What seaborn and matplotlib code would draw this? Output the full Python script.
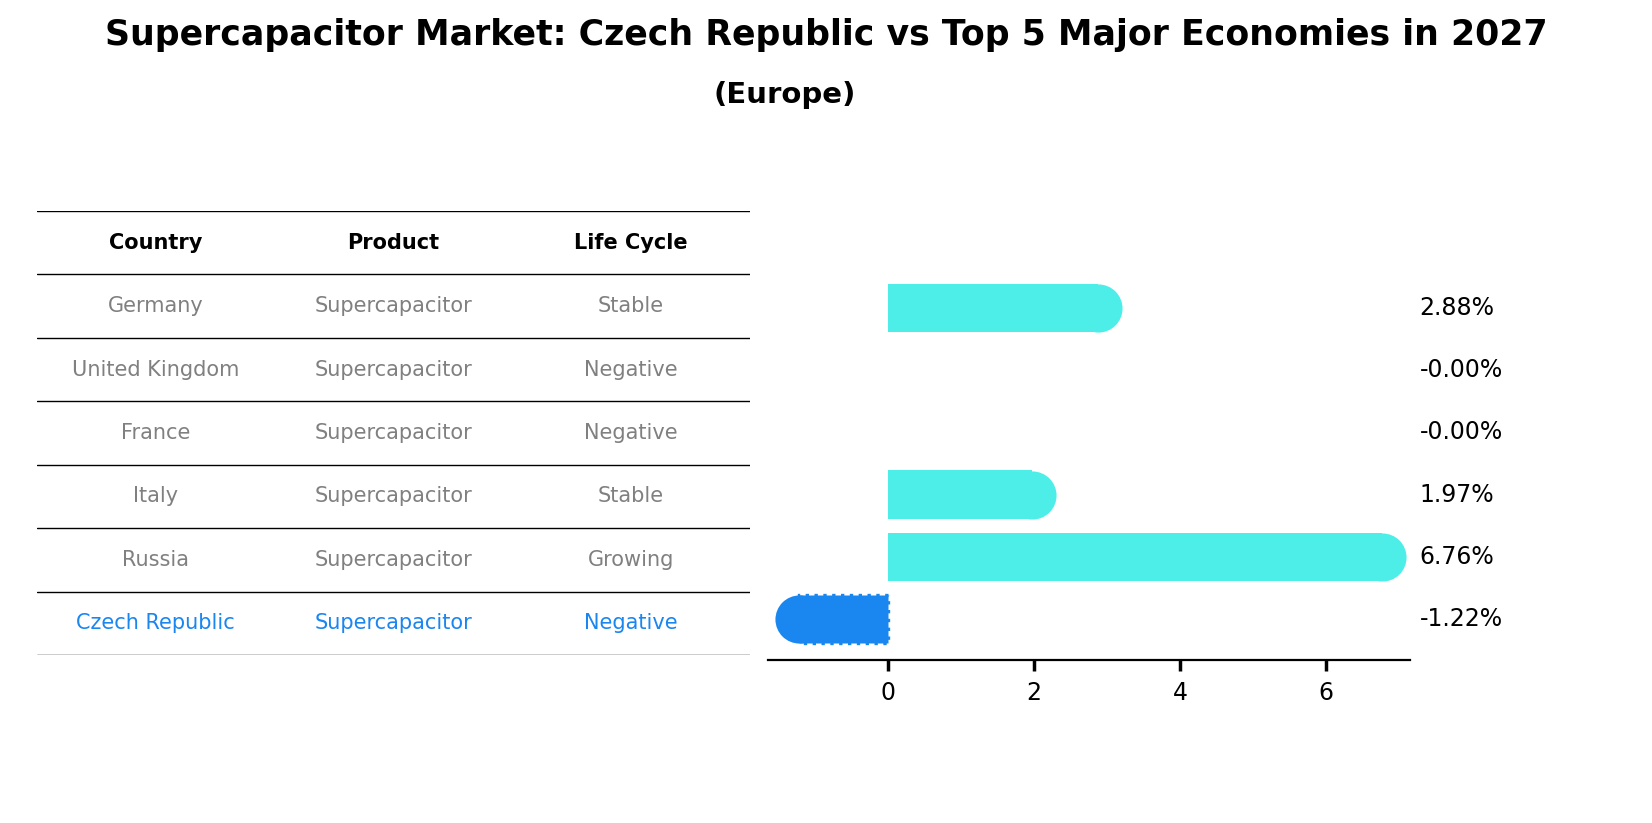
import matplotlib
matplotlib.use("Agg")
import matplotlib.pyplot as plt
import seaborn as sns
import pandas as pd

countries = ["Germany", "United Kingdom", "France", "Italy", "Russia", "Czech Republic"]
products = ["Supercapacitor"] * 6
life_cycle = ["Stable", "Negative", "Negative", "Stable", "Growing", "Negative"]
growth = [2.88, -0.00, -0.00, 1.97, 6.76, -1.22]
labels = ["2.88%", "-0.00%", "-0.00%", "1.97%", "6.76%", "-1.22%"]

CYAN = "#4deee8"
BLUE = "#1a86f0"
GREY = "#808080"

df = pd.DataFrame({"Country": countries, "Growth": growth})
colors = [BLUE if c == "Czech Republic" else CYAN for c in countries]

sns.set_theme(style="white", rc={"text.color": "black", "xtick.color": "black",
                                 "axes.labelcolor": "black"})
fig = plt.figure(figsize=(8.26, 4.115), dpi=200)

fig.text(0.5, 0.957, "Supercapacitor Market: Czech Republic vs Top 5 Major Economies in 2027",
         ha="center", va="center", fontsize=12.5, fontweight="bold")
fig.text(0.475, 0.885, "(Europe)", ha="center", va="center", fontsize=10.5, fontweight="bold")

# table
tax = fig.add_axes([37 / 1652, 1 - 655 / 823, 713 / 1652, 444 / 823])
tax.set_xlim(0, 3)
tax.set_ylim(7, 0)
tax.axis("off")
for i in range(8):
    tax.axhline(i, color="black", lw=0.5)
for j, h in enumerate(["Country", "Product", "Life Cycle"]):
    tax.text(j + 0.5, 0.5, h, ha="center", va="center", fontsize=7.5, fontweight="bold")
for i, (c, p, l) in enumerate(zip(countries, products, life_cycle)):
    col = BLUE if c == "Czech Republic" else GREY
    for j, v in enumerate([c, p, l]):
        tax.text(j + 0.5, i + 1.5, v, ha="center", va="center", fontsize=7.5, color=col)

# bars
ax = fig.add_axes([768 / 1652, 0.198, 642 / 1652, 0.4775])
sns.barplot(data=df, x="Growth", y="Country", hue="Country", palette=colors,
            legend=False, ax=ax, width=0.78, orient="h", saturation=1)
for bar, c in zip(ax.patches, countries):
    bar.set_edgecolor("none")
    if c == "Czech Republic":
        bar.set_edgecolor(BLUE)
        bar.set_linestyle(":")
        bar.set_linewidth(1.2)
for i, v in enumerate(growth):
    if v != 0:
        ax.scatter(v, i, s=300, color=colors[i], zorder=3, linewidths=0)
    ax.text(1.015, i, labels[i], transform=ax.get_yaxis_transform(),
            ha="left", va="center", fontsize=8.5)
ax.set_xlim(-1.64, 7.15)
ax.set_ylim(5.66, -0.66)
ax.set_xticks([0, 2, 4, 6])
ax.set_yticks([])
ax.set_xlabel("")
ax.set_ylabel("")
ax.tick_params(axis="x", labelsize=8.5, length=4, bottom=True, color="black")
for s in ["top", "right", "left"]:
    ax.spines[s].set_visible(False)
ax.spines["bottom"].set_color("black")
ax.spines["bottom"].set_linewidth(0.8)

fig.savefig("out.png", dpi=200)
